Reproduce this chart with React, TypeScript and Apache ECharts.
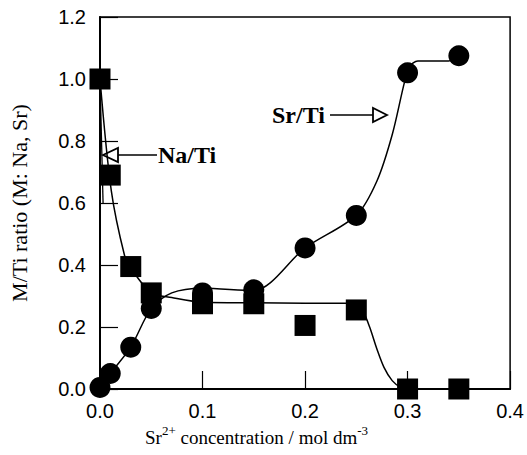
import React, { useEffect, useRef } from "react";
import * as echarts from "echarts";

// Measured points (x: Sr2+ concentration / mol dm^-3)
const concX = [0, 0.01, 0.03, 0.05, 0.1, 0.15, 0.2, 0.25, 0.3, 0.35];
const naTi = [1.0, 0.69, 0.395, 0.31, 0.275, 0.275, 0.205, 0.255, 0.0, 0.0];
const srTi = [0.005, 0.05, 0.135, 0.26, 0.31, 0.32, 0.455, 0.56, 1.02, 1.075];

// Hand-drawn guide curves
const naFitX = [0, 0.011, 0.024, 0.03, 0.05, 0.07, 0.1, 0.15, 0.2, 0.25, 0.256, 0.263, 0.27, 0.277, 0.285, 0.293, 0.3, 0.35];
const naFitY = [1.0, 0.64, 0.43, 0.39, 0.31, 0.295, 0.28, 0.278, 0.277, 0.277, 0.255, 0.2, 0.13, 0.07, 0.027, 0.006, 0.0, 0.0];
const naSteepX = [0, 0.003];
const naSteepY = [1.0, 0.6];
const srFitX = [0, 0.01, 0.03, 0.05, 0.07, 0.1, 0.15, 0.2, 0.25, 0.27, 0.285, 0.297, 0.302, 0.31, 0.34, 0.35];
const srFitY = [0.005, 0.05, 0.135, 0.26, 0.31, 0.325, 0.318, 0.455, 0.56, 0.67, 0.82, 0.99, 1.04, 1.058, 1.058, 1.075];

const xTicks = [0, 0.1, 0.2, 0.3, 0.4];
const yTicks = [0, 0.2, 0.4, 0.6, 0.8, 1.0, 1.2];

const zip = (xs: number[], ys: number[]) => xs.map((x, i) => [x, ys[i]]);

export default function App() {
  const ref = useRef<HTMLDivElement>(null);
  useEffect(() => {
    if (!ref.current) return;
    const chart = echarts.init(ref.current, null, { renderer: "svg" });
    const serif = "'Liberation Serif', 'Times New Roman', serif";
    const sans = "'Liberation Sans', Arial, sans-serif";
    chart.setOption({
      animation: false,
      backgroundColor: "#fff",
      grid: { left: 90, top: 17, right: 14, bottom: 66, show: true, borderColor: "#000", borderWidth: 1.5 },
      xAxis: {
        type: "value",
        min: xTicks[0],
        max: xTicks[xTicks.length - 1],
        interval: 0.1,
        axisLine: { show: true, lineStyle: { color: "#000", width: 2 } },
        axisTick: { show: true, inside: true, length: 18, lineStyle: { color: "#000", width: 1.2 } },
        splitLine: { show: false },
        axisLabel: { color: "#000", fontFamily: sans, fontSize: 20, margin: 12, formatter: (v: number) => v.toFixed(1) },
      },
      yAxis: {
        type: "value",
        min: yTicks[0],
        max: yTicks[yTicks.length - 1],
        interval: 0.2,
        name: "M/Ti ratio (M: Na, Sr)",
        nameLocation: "middle",
        nameRotate: 90,
        nameGap: 70,
        nameTextStyle: { color: "#000", fontFamily: serif, fontSize: 22 },
        axisLine: { show: true, lineStyle: { color: "#000", width: 2 } },
        axisTick: { show: true, inside: true, length: 18, lineStyle: { color: "#000", width: 1.2 } },
        splitLine: { show: false },
        axisLabel: { color: "#000", fontFamily: sans, fontSize: 20, margin: 14, formatter: (v: number) => v.toFixed(1) },
      },
      series: [
        {
          name: "Na/Ti fit",
          type: "line",
          data: zip(naFitX, naFitY),
          smooth: 0.3,
          showSymbol: false,
          lineStyle: { color: "#000", width: 1.5 },
          z: 1,
        },
        {
          name: "Na/Ti fit steep",
          type: "line",
          data: zip(naSteepX, naSteepY),
          showSymbol: false,
          lineStyle: { color: "#000", width: 1.3 },
          z: 1,
        },
        {
          name: "Sr/Ti fit",
          type: "line",
          data: zip(srFitX, srFitY),
          smooth: 0.3,
          showSymbol: false,
          lineStyle: { color: "#000", width: 1.5 },
          z: 1,
        },
        {
          name: "Na/Ti",
          type: "scatter",
          data: zip(concX, naTi),
          symbol: "rect",
          symbolSize: 21,
          itemStyle: { color: "#000", opacity: 1 },
          z: 3,
        },
        {
          name: "Sr/Ti",
          type: "scatter",
          data: zip(concX, srTi),
          symbol: "circle",
          symbolSize: 21,
          itemStyle: { color: "#000", opacity: 1 },
          z: 3,
        },
      ],
      graphic: [
        { type: "line", shape: { x1: 118, y1: 155, x2: 157, y2: 155 }, style: { stroke: "#000", lineWidth: 1.5 } },
        { type: "polygon", shape: { points: [[103, 155], [118, 148], [118, 162]] }, style: { fill: "#fff", stroke: "#000", lineWidth: 1.8 } },
        { type: "text", x: 158, y: 155, style: { text: "Na/Ti", font: `bold 24px ${serif}`, fill: "#000", textAlign: "left", textVerticalAlign: "middle" } },
        { type: "text", x: 272, y: 115, style: { text: "Sr/Ti", font: `bold 24px ${serif}`, fill: "#000", textAlign: "left", textVerticalAlign: "middle" } },
        { type: "line", shape: { x1: 330, y1: 115, x2: 373, y2: 115 }, style: { stroke: "#000", lineWidth: 1.5 } },
        { type: "polygon", shape: { points: [[387, 115], [373, 108], [373, 122]] }, style: { fill: "#fff", stroke: "#000", lineWidth: 1.8 } },
        {
          type: "text",
          x: 145,
          y: 437,
          style: {
            text: "{b|Sr}{s|2+}{b| concentration / mol dm}{s|-3}",
            textAlign: "left",
            textVerticalAlign: "middle",
            fill: "#000",
            rich: {
              b: { fontFamily: serif, fontSize: 19, lineHeight: 26, fill: "#000" },
              s: { fontFamily: serif, fontSize: 13, verticalAlign: "top", fill: "#000" },
            },
          },
        },
      ],
    });
    return () => chart.dispose();
  }, []);
  return <div ref={ref} style={{ position: "absolute", left: 0, top: 0, width: 527, height: 455 }} />;
}
